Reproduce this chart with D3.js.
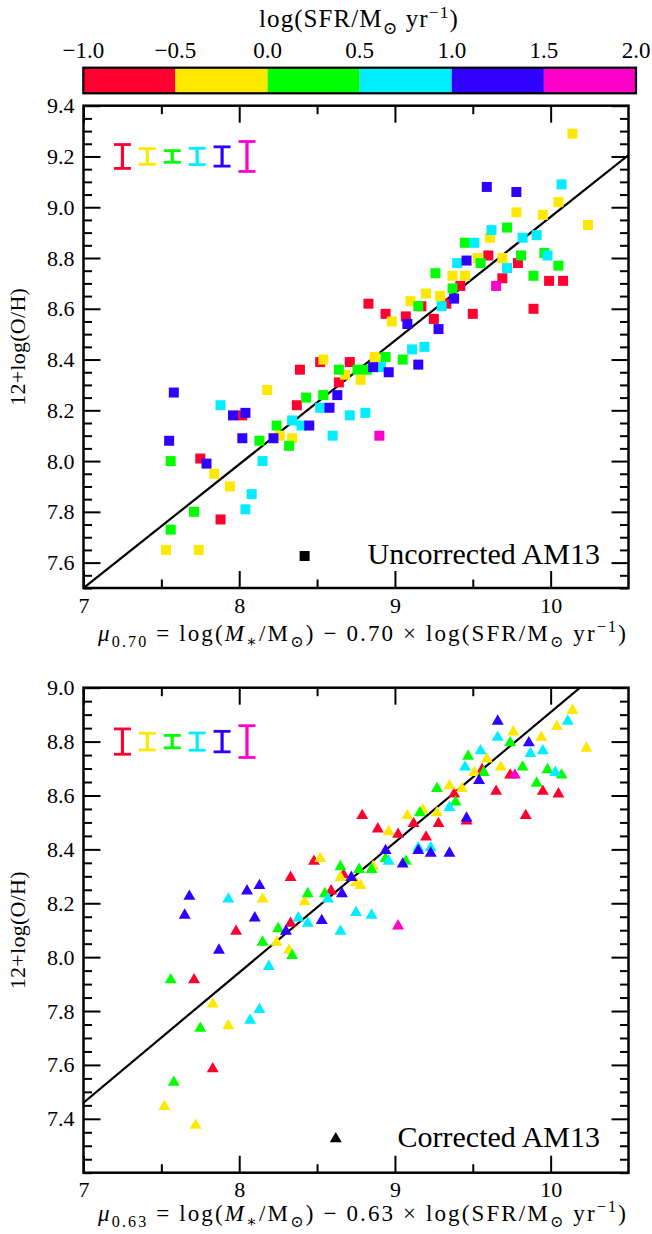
<!DOCTYPE html>
<html><head><meta charset="utf-8">
<script src="https://cdn.jsdelivr.net/npm/d3@7"></script>
<style>html,body{margin:0;padding:0;background:#fff;}svg{display:block;}</style>
</head><body>
<svg id="chart" width="652" height="1234"></svg>
<script>
// ---------- data ----------
const sfrEdges = [-1.0, -0.5, 0.0, 0.5, 1.0, 1.5, 2.0];
const sfrColors = ["#ff0030", "#ffe800", "#00ff00", "#00eeff", "#3000ff", "#ff00c8"];
const cbarTicks = [-1.0, -0.5, 0.0, 0.5, 1.0, 1.5, 2.0];
const xTicksMajor = [7, 8, 9, 10];
const xTicksMinor = [7.5, 8.5, 9.5];
const yTicksTop = [7.6, 7.8, 8.0, 8.2, 8.4, 8.6, 8.8, 9.0, 9.2, 9.4];
const yTicksBot = [7.4, 7.6, 7.8, 8.0, 8.2, 8.4, 8.6, 8.8, 9.0];

// error bars (typical uncertainties per SFR bin)
const errX = [7.25, 7.41, 7.57, 7.73, 7.89, 8.05];
const errSfr = [-0.75, -0.25, 0.25, 0.75, 1.25, 1.75];
const errHalf = [0.047, 0.031, 0.023, 0.032, 0.038, 0.059];

// fits
const fitTop = [4.088, 0.4874];   // intercept, slope
const fitBot = [4.079, 0.483];

// top panel: uncorrected AM13
const muTop = [10.14,9.59,9.78,10.07,10.05,9.78,9.95,10.24,9.62,9.72,9.61,9.82,9.91,9.45,9.51,9.60,9.46,9.53,9.55,9.40,9.69,9.79,9.81,9.96,9.98,9.72,10.05,9.26,9.37,9.45,9.69,9.89,9.99,10.08,9.42,9.37,9.65,9.20,9.29,9.38,9.17,9.33,9.30,9.10,9.15,8.83,8.94,9.07,8.98,9.08,9.25,9.28,9.50,9.89,9.11,9.19,
8.54,8.52,8.39,8.71,8.64,8.68,8.76,8.82,8.86,8.78,8.64,8.18,7.58,7.88,8.37,8.43,8.54,8.63,8.52,8.58,8.71,8.81,7.96,8.02,8.04,8.34,8.40,8.45,8.24,7.55,8.02,8.13,8.22,8.26,8.34,8.32,8.60,7.56,7.75,7.79,7.84,8.15,7.94,8.08,8.04,7.71,7.88,7.56,7.53,7.74,
9.05,8.87,8.94,8.91,8.96,9.15,8.90];
const ohTop = [9.29,9.08,9.06,9.09,9.02,8.98,8.97,8.93,8.91,8.92,8.88,8.88,8.89,8.86,8.86,8.81,8.79,8.80,8.78,8.78,8.80,8.78,8.81,8.82,8.81,8.76,8.77,8.74,8.73,8.73,8.72,8.73,8.71,8.71,8.69,8.68,8.69,8.66,8.65,8.64,8.61,8.62,8.61,8.63,8.61,8.62,8.58,8.57,8.55,8.54,8.56,8.52,8.58,8.60,8.44,8.45,
8.40,8.39,8.36,8.39,8.36,8.34,8.36,8.36,8.37,8.32,8.31,8.28,8.27,8.22,8.22,8.25,8.26,8.26,8.21,8.21,8.18,8.19,8.18,8.18,8.19,8.16,8.14,8.14,8.14,8.08,8.09,8.08,8.09,8.10,8.09,8.06,8.10,8.00,8.01,7.99,7.95,8.00,7.90,7.87,7.81,7.80,7.77,7.73,7.65,7.65,
8.40,8.41,8.41,8.37,8.35,8.38,8.10];
const sfrTop = [-0.25,1.25,1.25,0.75,-0.25,-0.25,-0.25,-0.25,0.75,0.25,-0.25,0.75,0.75,0.25,0.75,-0.75,1.25,-0.25,0.25,0.75,-0.25,-0.75,0.25,0.25,0.75,0.75,0.25,0.25,-0.25,-0.25,-0.75,0.25,-0.75,-0.75,-0.75,0.25,1.75,-0.25,-0.25,1.25,-0.75,-0.75,0.75,-0.25,0.25,-0.75,-0.75,-0.75,-0.25,1.25,-0.75,1.25,-0.75,-0.75,0.75,0.75,
-0.25,-0.75,-0.75,-0.75,0.25,-0.25,0.25,0.25,1.25,-0.25,-0.75,-0.25,1.25,0.75,-0.75,0.25,0.25,1.25,0.75,1.25,0.75,0.75,1.25,-0.75,1.25,0.75,0.75,1.25,0.25,1.25,1.25,0.25,1.25,-0.25,-0.25,0.25,0.75,0.25,-0.75,1.25,-0.25,0.75,-0.25,0.75,0.75,0.25,-0.75,0.25,-0.25,-0.25,
0.25,-0.25,0.25,0.75,1.25,1.25,1.75];

// bottom panel: corrected AM13
const muBot = [10.14,10.11,9.66,10.04,9.76,9.66,9.94,9.74,9.86,10.23,9.87,9.95,9.47,9.55,9.59,9.45,9.68,9.82,9.51,9.56,9.57,9.74,9.77,9.98,10.03,10.07,9.91,9.95,10.05,9.54,9.65,9.27,9.35,9.43,9.38,9.39,9.35,9.84,9.46,9.46,9.18,9.16,9.08,9.27,9.28,9.12,8.79,8.89,8.96,9.02,9.20,8.94,8.94,8.96,9.15,9.23,9.15,9.23,9.35,9.05,9.07,8.85,8.86,8.78,
8.48,8.52,8.33,8.65,8.77,8.67,8.65,8.72,8.75,8.44,8.55,8.59,8.66,7.68,7.93,8.05,8.13,8.15,8.42,8.57,7.65,8.10,8.38,8.44,8.53,8.75,8.85,7.98,8.33,8.25,8.30,8.65,7.87,8.15,8.24,8.32,8.34,8.19,7.56,7.71,7.83,8.13,8.07,7.75,7.93,7.83,7.58,7.52,7.72,9.02];
const ohBot = [8.92,8.88,8.88,8.86,8.84,8.82,8.82,8.80,8.80,8.78,8.76,8.77,8.75,8.77,8.74,8.71,8.71,8.71,8.69,8.70,8.69,8.68,8.68,8.70,8.69,8.68,8.65,8.62,8.61,8.66,8.62,8.63,8.64,8.63,8.61,8.58,8.56,8.53,8.52,8.51,8.55,8.54,8.53,8.54,8.50,8.50,8.53,8.48,8.47,8.46,8.45,8.40,8.37,8.36,8.41,8.41,8.40,8.39,8.39,8.35,8.36,8.33,8.34,8.27,
8.36,8.37,8.30,8.34,8.33,8.31,8.30,8.30,8.28,8.24,8.24,8.25,8.24,8.23,8.22,8.25,8.27,8.22,8.21,8.22,8.16,8.15,8.15,8.13,8.14,8.17,8.16,8.10,8.13,8.11,8.10,8.10,8.03,8.06,8.06,8.03,8.01,7.97,7.92,7.92,7.83,7.81,7.77,7.74,7.75,7.59,7.54,7.45,7.38,8.12];
const sfrBot = [-0.25,0.75,1.25,-0.25,-0.25,0.75,-0.25,0.25,1.25,-0.25,0.75,0.75,0.25,0.75,-0.25,0.75,-0.25,0.25,-0.25,-0.75,0.25,-0.75,1.75,0.25,0.75,0.25,0.25,-0.75,-0.75,1.25,-0.75,0.25,-0.25,-0.25,-0.75,0.25,0.75,-0.75,1.25,-0.75,-0.25,0.25,-0.25,-0.25,-0.75,-0.75,-0.75,-0.75,-0.25,-0.75,-0.75,1.25,0.25,0.75,0.75,0.75,1.25,1.25,1.25,1.25,0.25,0.25,-0.25,-0.25,
-0.75,-0.25,-0.75,0.25,0.25,-0.75,-0.25,1.25,-0.25,0.25,0.25,-0.75,1.25,1.25,0.75,1.25,1.25,-0.25,-0.25,0.75,1.25,1.25,0.75,0.75,1.25,0.75,0.75,-0.75,-0.75,0.25,1.25,0.75,1.25,0.25,-0.25,-0.25,0.25,0.75,0.25,-0.75,-0.25,0.75,0.75,0.25,-0.25,-0.75,0.25,-0.25,-0.25,1.75];

// ---------- drawing ----------
const FONT = "'Liberation Serif', 'DejaVu Serif', serif";
const svg = d3.select("#chart");
const color = d3.scaleThreshold().domain(sfrEdges.slice(1, -1)).range(sfrColors);
const L = 83.5, R = 628.5;

function rich(sel, parts, size) {
  let shift = 0;
  parts.forEach(p => {
    const ts = sel.append("tspan").text(p.t);
    const target = p.s === "sub" ? size * 0.28 : p.s === "sup" ? -size * 0.38 : 0;
    ts.attr("dy", target - shift);
    shift = target;
    if (p.s) ts.attr("font-size", size * 0.7);
    if (p.i) ts.attr("font-style", "italic");
  });
}
// widen a text to a target width by letter spacing (serif fallback is narrower than the original font)
function fitWidth(sel, target) {
  const node = sel.node();
  const w = node.getComputedTextLength();
  const n = node.textContent.length;
  if (w < target && n > 1) sel.attr("letter-spacing", ((target - w) / n).toFixed(2));
}

// colorbar
const cb = d3.scaleLinear().domain([-1, 2]).range([83.3, 636]);
const cbY = 67.7, cbH = 25.6;
svg.append("g").selectAll("rect").data(d3.range(6)).join("rect")
  .attr("x", i => cb(sfrEdges[i])).attr("y", cbY)
  .attr("width", i => cb(sfrEdges[i + 1]) - cb(sfrEdges[i])).attr("height", cbH)
  .attr("fill", i => sfrColors[i]);
svg.append("rect").attr("x", cb(-1)).attr("y", cbY).attr("width", cb(2) - cb(-1)).attr("height", cbH)
  .attr("fill", "none").attr("stroke", "#000").attr("stroke-width", 2.2);
svg.append("g").selectAll("text").data(cbarTicks).join("text")
  .attr("x", d => cb(d)).attr("y", 58).attr("text-anchor", "middle")
  .attr("font-family", FONT).attr("font-size", 23)
  .text(d => d3.format(".1f")(d));
const cbt = svg.append("text").attr("x", 359).attr("y", 27).attr("text-anchor", "middle")
  .attr("font-family", FONT).attr("font-size", 25);
rich(cbt, [{t: "log(SFR/M"}, {t: "⊙", s: "sub"}, {t: " yr"}, {t: "−1", s: "sup"}, {t: ")"}], 25);
fitWidth(cbt, 200);

function panel(cfg) {
  const x = d3.scaleLinear().domain([7, 10.5]).range([L, R]);
  const y = d3.scaleLinear().domain(cfg.ydom).range([cfg.bottom, cfg.top]);
  const g = svg.append("g");

  // error bars
  const eb = g.append("g");
  errX.forEach((ex, i) => {
    const c = color(errSfr[i]);
    const y0 = y(cfg.errY - errHalf[i]), y1 = y(cfg.errY + errHalf[i]);
    eb.append("line").attr("x1", x(ex)).attr("x2", x(ex)).attr("y1", y0).attr("y2", y1)
      .attr("stroke", c).attr("stroke-width", 3.2);
    [y0, y1].forEach(yy => eb.append("line").attr("x1", x(ex) - 8.5).attr("x2", x(ex) + 8.5)
      .attr("y1", yy).attr("y2", yy).attr("stroke", c).attr("stroke-width", 2.8));
  });

  // fit line (clipped to axes)
  const clipId = "clip" + cfg.id;
  svg.append("clipPath").attr("id", clipId).append("rect")
    .attr("x", L).attr("y", cfg.top).attr("width", R - L).attr("height", cfg.bottom - cfg.top);
  g.append("line").attr("clip-path", `url(#${clipId})`)
    .attr("x1", x(7)).attr("y1", y(cfg.fit[0] + cfg.fit[1] * 7))
    .attr("x2", x(10.5)).attr("y2", y(cfg.fit[0] + cfg.fit[1] * 10.5))
    .attr("stroke", "#000").attr("stroke-width", 2.2);

  // points sorted by SFR (low first)
  const pts = cfg.mu.map((m, i) => ({m, o: cfg.oh[i], s: cfg.sfr[i], i}))
    .sort((a, b) => a.s - b.s || a.i - b.i);
  const sym = d3.symbol().type(cfg.square ? d3.symbolSquare : d3.symbolTriangle).size(cfg.square ? 100 : 62);
  g.append("g").selectAll("path").data(pts).join("path")
    .attr("transform", d => `translate(${x(d.m)},${y(d.o) + (cfg.square ? 0 : 1.2)})`)
    .attr("d", sym).attr("fill", d => color(d.s));

  // annotation marker + text
  g.append("path").attr("d", sym)
    .attr("transform", `translate(${x(cfg.ann[0])},${y(cfg.ann[1]) + (cfg.square ? 0 : 1.2)})`).attr("fill", "#000");
  g.append("text").attr("x", 600).attr("y", y(cfg.ann[1]) + cfg.annDy).attr("text-anchor", "end")
    .attr("font-family", FONT).attr("font-size", 30).text(cfg.label);

  // axes
  const style = a => a.call(s => s.select(".domain").remove())
    .attr("font-family", FONT).attr("font-size", 22)
    .call(s => s.selectAll(".tick line").attr("stroke", "#000").attr("stroke-width", 2))
    .call(s => s.selectAll("text").attr("fill", "#000"));
  const yMinor = d3.range(Math.round(cfg.ydom[0] * 20), Math.round(cfg.ydom[1] * 20) + 1)
    .map(v => v / 20).filter(v => !cfg.yticks.some(t => Math.abs(t - v) < 1e-6));
  style(g.append("g").attr("transform", `translate(0,${cfg.bottom})`)
    .call(d3.axisBottom(x).tickValues(xTicksMajor).tickSize(-17).tickPadding(9).tickFormat(d3.format("d"))));
  style(g.append("g").attr("transform", `translate(0,${cfg.bottom})`)
    .call(d3.axisBottom(x).tickValues(xTicksMinor).tickSize(-8.5).tickFormat("")));
  style(g.append("g").attr("transform", `translate(0,${cfg.top})`)
    .call(d3.axisTop(x).tickValues(xTicksMajor).tickSize(-17).tickFormat("")));
  style(g.append("g").attr("transform", `translate(0,${cfg.top})`)
    .call(d3.axisTop(x).tickValues(xTicksMinor).tickSize(-8.5).tickFormat("")));
  style(g.append("g").attr("transform", `translate(${L},0)`)
    .call(d3.axisLeft(y).tickValues(cfg.yticks).tickSize(-17).tickPadding(9).tickFormat(d3.format(".1f"))));
  style(g.append("g").attr("transform", `translate(${L},0)`)
    .call(d3.axisLeft(y).tickValues(yMinor).tickSize(-8.5).tickFormat("")));
  style(g.append("g").attr("transform", `translate(${R},0)`)
    .call(d3.axisRight(y).tickValues(cfg.yticks).tickSize(-17).tickFormat("")));
  style(g.append("g").attr("transform", `translate(${R},0)`)
    .call(d3.axisRight(y).tickValues(yMinor).tickSize(-8.5).tickFormat("")));

  g.append("rect").attr("x", L).attr("y", cfg.top).attr("width", R - L).attr("height", cfg.bottom - cfg.top)
    .attr("fill", "none").attr("stroke", "#000").attr("stroke-width", 2.5);

  // axis labels
  const yl = g.append("text").attr("transform", `translate(25,${(cfg.top + cfg.bottom) / 2}) rotate(-90)`)
    .attr("text-anchor", "middle").attr("font-family", FONT).attr("font-size", 22).text("12+log(O/H)");
  fitWidth(yl, 118);
  const xl = g.append("text").attr("x", 363).attr("y", cfg.bottom + cfg.xlabDy).attr("text-anchor", "middle")
    .attr("font-family", FONT).attr("font-size", 23);
  rich(xl, [{t: "μ", i: true}, {t: cfg.coef, s: "sub"}, {t: " = log("}, {t: "M", i: true}, {t: "∗", s: "sub"},
    {t: "/M"}, {t: "⊙", s: "sub"}, {t: ") − " + cfg.coef + " × log(SFR/M"}, {t: "⊙", s: "sub"},
    {t: " yr"}, {t: "−1", s: "sup"}, {t: ")"}], 23);
  fitWidth(xl, 530);
}

panel({id: "t", ydom: [7.5, 9.4], top: 105.7, bottom: 588, yticks: yTicksTop, errY: 9.2, fit: fitTop,
  mu: muTop, oh: ohTop, sfr: sfrTop, square: true, ann: [8.42, 7.626], annDy: 8, label: "Uncorrected AM13",
  coef: "0.70", xlabDy: 53});
panel({id: "b", ydom: [7.2, 9.0], top: 687.7, bottom: 1172.7, yticks: yTicksBot, errY: 8.8, fit: fitBot,
  mu: muBot, oh: ohBot, sfr: sfrBot, square: false, ann: [8.62, 7.33], annDy: 9, label: "Corrected AM13",
  coef: "0.63", xlabDy: 48});
</script>
</body></html>
